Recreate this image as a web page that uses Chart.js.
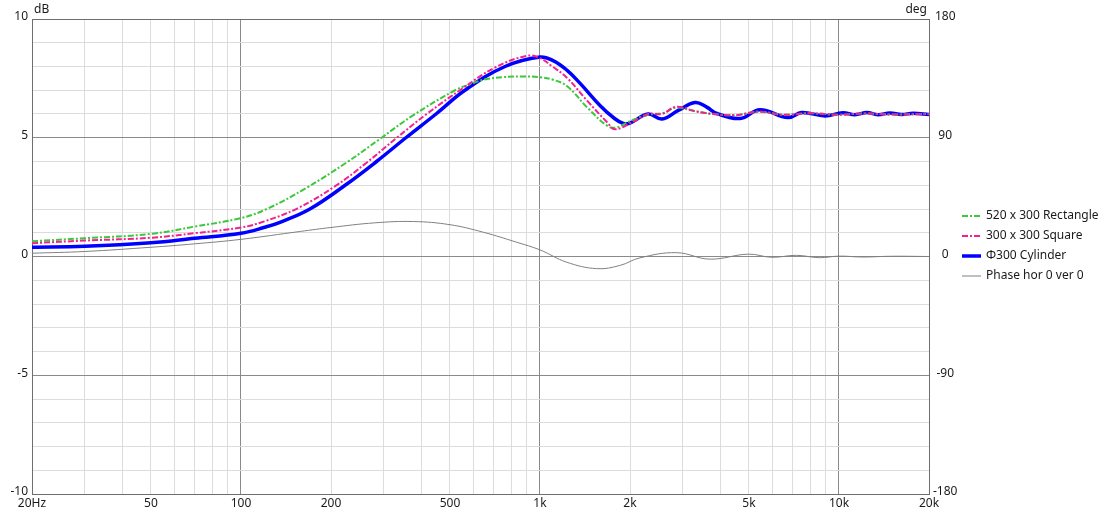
<!DOCTYPE html>
<html>
<head>
<meta charset="utf-8">
<script src="https://cdn.jsdelivr.net/npm/chart.js@4.4.0/dist/chart.umd.min.js"></script>
<style>
    body { margin: 0; background: #fff; }
</style>
</head>
<body>
<canvas id="chart" width="1118" height="513"></canvas>
<script>
// tick labels
const xTickValues = [20, 50, 100, 200, 500, 1000, 2000, 5000, 10000, 20000];
const xTickLabels = ["20Hz", "50", "100", "200", "500", "1k", "2k", "5k", "10k", "20k"];
const xMajor = [100, 1000, 10000];
const yTickValues = [-10, -5, 0, 5, 10];
const y2TickValues = [-180, -90, 0, 90, 180];

// 520 x 300 Rectangle
const rectFreq = [20, 30, 50, 70, 100, 122, 165, 225, 290, 375, 520, 583, 650, 750, 870, 1000, 1100, 1230, 1440, 1680, 1800, 2000, 2300, 2600, 2850, 3300, 3800, 4500, 5400, 6500, 8000, 10000, 12000, 15000, 20000];
const rectDb = [0.64, 0.77, 0.95, 1.26, 1.62, 2.0, 2.88, 3.95, 4.93, 5.93, 7.0, 7.25, 7.45, 7.55, 7.58, 7.55, 7.45, 7.18, 6.27, 5.5, 5.43, 5.7, 5.97, 6.05, 6.27, 6.12, 6.0, 5.95, 6.1, 5.97, 6.03, 5.97, 6.02, 5.98, 6.0];

// 300 x 300 Square
const squareFreq = [20, 30, 50, 70, 100, 119, 154, 206, 263, 332, 418, 547, 706, 904, 1000, 1100, 1230, 1440, 1680, 1780, 2000, 2300, 2560, 2850, 3300, 3800, 4500, 5400, 6500, 8000, 10000, 12000, 15000, 20000];
const squareDb = [0.56, 0.67, 0.79, 0.98, 1.22, 1.47, 2.02, 2.95, 3.95, 5.0, 6.0, 7.05, 7.95, 8.45, 8.35, 8.0, 7.53, 6.55, 5.64, 5.36, 5.6, 6.0, 6.0, 6.3, 6.12, 6.0, 5.95, 6.1, 5.97, 6.03, 5.97, 6.02, 5.98, 6.0];

// Φ300 Cylinder
const cylFreq = [20, 30, 50, 70, 100, 120, 135, 170, 223, 284, 356, 449, 561, 764, 1000, 1106, 1230, 1360, 1590, 1780, 1900, 2000, 2300, 2560, 2900, 3300, 3600, 3910, 4670, 5440, 6750, 7500, 8980, 10300, 11300, 12400, 13500, 14800, 16200, 17700, 20000];
const cylDb = [0.39, 0.43, 0.58, 0.77, 0.98, 1.23, 1.44, 2.0, 3.0, 4.0, 5.0, 6.0, 7.0, 8.0, 8.4, 8.25, 7.85, 7.3, 6.35, 5.8, 5.6, 5.62, 6.0, 5.79, 6.15, 6.48, 6.3, 6.02, 5.81, 6.18, 5.85, 6.06, 5.92, 6.05, 5.97, 6.06, 5.97, 6.04, 5.98, 6.03, 5.98];

// Phase hor 0 ver 0 (deg)
const phaseFreq = [20, 30, 50, 70, 100, 158, 200, 280, 377, 500, 646, 836, 1000, 1228, 1548, 1850, 2160, 2865, 3700, 4975, 5960, 7200, 8600, 10000, 12000, 15000, 20000];
const phaseDeg = [2.5, 3.8, 7, 9.6, 13, 19, 22, 25.5, 26.5, 24.1, 18.4, 10.8, 5, -4.3, -9.2, -6.8, -1, 2.9, -2, 1.8, -0.6, 0.9, -0.9, 0.3, -0.4, 0.2, 0];

function points(freqs, values) {
    return freqs.map((f, i) => ({ x: f, y: values[i] }));
}

const xGrid = [];
[10, 100, 1000].forEach(d => {
    for (let m = 1; m < 10; m++) {
        if (d * m >= 20) xGrid.push(d * m);
    }
});
xGrid.push(10000, 20000);

const yGrid = [];
for (let v = -10; v <= 10; v++) yGrid.push(v);

const borderColor = "#6e6e6e";
const majorColor = "#8a8a8a";
const minorColor = "#dcdcdc";
const fontFamily = '"Noto Sans", sans-serif';

Chart.defaults.font.family = fontFamily;
Chart.defaults.font.size = 12;
Chart.defaults.color = "#1a1a1a";

const sideLegend = {
    id: "sideLegend",
    afterDraw(chart) {
        const ctx = chart.ctx;
        const area = chart.chartArea;
        ctx.save();
        ctx.font = "12px " + fontFamily;
        ctx.textBaseline = "middle";
        chart.data.datasets.forEach((ds, i) => {
            const y = 216 + i * 20;
            ctx.strokeStyle = ds.borderColor;
            ctx.lineWidth = ds.borderWidth;
            ctx.setLineDash(ds.borderDash || []);
            ctx.beginPath();
            ctx.moveTo(area.right + 33, y);
            ctx.lineTo(area.right + 52, y);
            ctx.stroke();
            ctx.setLineDash([]);
            ctx.fillStyle = "#1a1a1a";
            ctx.fillText(ds.label, area.right + 57, y);
        });
        // axis units
        ctx.textAlign = "left";
        ctx.fillText("dB", area.left + 2, 10);
        ctx.textAlign = "right";
        ctx.fillText("deg", area.right - 2, 10);
        ctx.restore();
    }
};

new Chart(document.getElementById("chart"), {
    type: "line",
    data: {
        datasets: [
            {
                label: "520 x 300 Rectangle",
                data: points(rectFreq, rectDb),
                borderColor: "#3cc83c",
                borderWidth: 2,
                borderDash: [6, 2, 2, 2],
                yAxisID: "y",
                order: 1
            },
            {
                label: "300 x 300 Square",
                data: points(squareFreq, squareDb),
                borderColor: "#f5208f",
                borderWidth: 2,
                borderDash: [6, 2, 2, 2],
                yAxisID: "y",
                order: 0
            },
            {
                label: "Φ300 Cylinder",
                data: points(cylFreq, cylDb),
                borderColor: "#0000ff",
                borderWidth: 3.5,
                yAxisID: "y",
                order: 2
            },
            {
                label: "Phase hor 0 ver 0",
                data: points(phaseFreq, phaseDeg),
                borderColor: "#808080",
                borderWidth: 1,
                yAxisID: "y2",
                order: 3
            }
        ]
    },
    options: {
        responsive: false,
        animation: false,
        devicePixelRatio: 1,
        layout: { padding: { top: 19, right: 149, left: 0, bottom: 0 } },
        elements: {
            point: { radius: 0 },
            line: { tension: 0.4, fill: false }
        },
        plugins: {
            legend: { display: false },
            tooltip: { enabled: false }
        },
        scales: {
            x: {
                type: "logarithmic",
                min: 20,
                max: 20000,
                afterBuildTicks: scale => { scale.ticks = xGrid.map(v => ({ value: v })); },
                afterFit: scale => { scale.height = 19; },
                ticks: {
                    autoSkip: false,
                    maxRotation: 0,
                    padding: 2,
                    callback: value => {
                        const i = xTickValues.indexOf(value);
                        return i >= 0 ? xTickLabels[i] : "";
                    }
                },
                grid: {
                    drawTicks: false,
                    color: c => xMajor.includes(c.tick.value) ? majorColor : minorColor
                },
                border: { display: true, color: borderColor }
            },
            y: {
                type: "linear",
                position: "left",
                min: -10,
                max: 10,
                afterBuildTicks: scale => { scale.ticks = yGrid.map(v => ({ value: v })); },
                afterFit: scale => { scale.width = 32; },
                ticks: {
                    padding: 4,
                    labelOffset: -2,
                    callback: value => yTickValues.includes(value) ? String(value) : ""
                },
                grid: {
                    drawTicks: false,
                    color: c => c.tick.value === 10 ? borderColor : (c.tick.value % 5 === 0 ? majorColor : minorColor)
                },
                border: { display: true, color: borderColor }
            },
            y2: {
                type: "linear",
                position: "right",
                min: -180,
                max: 180,
                afterBuildTicks: scale => { scale.ticks = y2TickValues.map(v => ({ value: v })); },
                afterFit: scale => { scale.width = 40; },
                ticks: {
                    padding: 4,
                    labelOffset: -2,
                    crossAlign: "center"
                },
                grid: { display: false, drawTicks: false },
                border: { display: true, color: borderColor }
            }
        }
    },
    plugins: [sideLegend]
});
</script>
</body>
</html>
